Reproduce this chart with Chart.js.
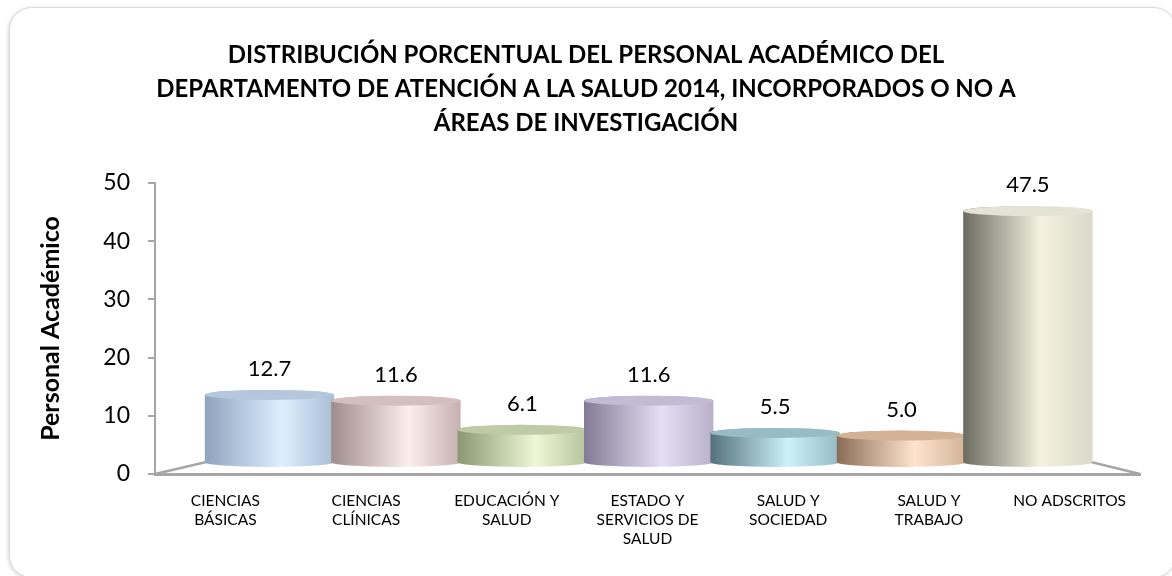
<!DOCTYPE html>
<html>
<head>
<meta charset="utf-8">
<script src="https://cdn.jsdelivr.net/npm/chart.js@4"></script>
<style>
  html, body { margin: 0; padding: 0; background: #fff; }
  #wrap { width: 1172px; height: 576px; }
</style>
</head>
<body>
<div id="wrap"><canvas id="chart1" width="1172" height="576"></canvas></div>
<script>
const categories = [
  ['CIENCIAS', 'BÁSICAS'],
  ['CIENCIAS', 'CLÍNICAS'],
  ['EDUCACIÓN Y', 'SALUD'],
  ['ESTADO Y', 'SERVICIOS DE', 'SALUD'],
  ['SALUD Y', 'SOCIEDAD'],
  ['SALUD Y', 'TRABAJO'],
  'NO ADSCRITOS'
];
const shares = [12.7, 11.6, 6.1, 11.6, 5.5, 5.0, 47.5];
const yTicks = [0, 10, 20, 30, 40, 50];
const titleLines = [
  'DISTRIBUCIÓN PORCENTUAL DEL PERSONAL ACADÉMICO DEL',
  'DEPARTAMENTO DE ATENCIÓN A LA SALUD 2014, INCORPORADOS O NO A',
  'ÁREAS DE INVESTIGACIÓN'
];
const yTitle = 'Personal Académico';

// cylinder shading: left edge, highlight, right edge, top cap
const shadeDark = ['#8fa4bd', '#a08c8c', '#8b9872', '#837b96', '#54727b', '#8a6d57', '#6b6b5f'];
const shadeLight = ['#ddeeff', '#fdeeee', '#eef7d6', '#e6dff3', '#cdf2fa', '#ffe4cc', '#f5f2e1'];
const shadeEdge = ['#aabdd3', '#c6b0b0', '#b6c39d', '#b9b0ca', '#95b9c3', '#d2b398', '#dad8c8'];
const shadeTop = ['#b4c7dc', '#d3bfbf', '#bfcba6', '#c3bad3', '#98bbc4', '#d3b296', '#e5e3d5'];

const axisGray = '#a6a6a6';
const font = 'Lato, "Noto Sans", sans-serif';

function drawCylinder(ctx, x, top, base, w, i) {
  const l = x - w / 2, r = x + w / 2, ry = 5;
  const g = ctx.createLinearGradient(l, 0, r, 0);
  g.addColorStop(0, shadeDark[i]);
  g.addColorStop(0.6, shadeLight[i]);
  g.addColorStop(1, shadeEdge[i]);
  ctx.beginPath();
  ctx.moveTo(l, top);
  ctx.lineTo(l, base);
  ctx.ellipse(x, base, w / 2, ry, 0, Math.PI, 0, true);
  ctx.lineTo(r, top);
  ctx.ellipse(x, top, w / 2, ry, 0, 0, Math.PI, true);
  ctx.closePath();
  ctx.fillStyle = g;
  ctx.fill();
  ctx.beginPath();
  ctx.ellipse(x, top, w / 2, ry, 0, 0, Math.PI * 2);
  ctx.fillStyle = shadeTop[i];
  ctx.fill();
}

const frame = {
  id: 'frame',
  beforeDraw(chart) {
    const ctx = chart.ctx;
    ctx.save();
    ctx.shadowColor = 'rgba(0,0,0,0.18)';
    ctx.shadowBlur = 4;
    ctx.shadowOffsetX = -1;
    ctx.shadowOffsetY = 1;
    ctx.beginPath();
    ctx.roundRect(9.5, 7.5, 1166, 570, 22);
    ctx.fillStyle = '#fff';
    ctx.fill();
    ctx.shadowColor = 'transparent';
    ctx.strokeStyle = '#d9d9d9';
    ctx.lineWidth = 1;
    ctx.stroke();
    ctx.restore();
  }
};

const floor = {
  id: 'floor',
  beforeDatasetsDraw(chart) {
    const { ctx, chartArea } = chart;
    const x2 = chart.scales.x2, y2 = chart.scales.y2;
    const backY = y2.getPixelForValue(0);
    const bl = x2.getPixelForValue(-0.5), br = x2.getPixelForValue(shares.length - 0.5);
    ctx.save();
    ctx.strokeStyle = axisGray;
    ctx.lineWidth = 2.5;
    ctx.beginPath();
    ctx.moveTo(chartArea.left, chartArea.bottom);
    ctx.lineTo(bl, backY);
    ctx.lineTo(br, backY);
    ctx.lineTo(chartArea.right, chartArea.bottom);
    ctx.stroke();
    ctx.restore();
  },
  afterDatasetsDraw(chart) {
    const ctx = chart.ctx;
    const y2 = chart.scales.y2;
    const meta = chart.getDatasetMeta(0);
    ctx.save();
    meta.data.forEach((bar, i) => {
      drawCylinder(ctx, bar.x, bar.y, bar.base, bar.width + 3, i);
    });
    ctx.fillStyle = '#000';
    ctx.font = '22px ' + font;
    ctx.textAlign = 'center';
    ctx.textBaseline = 'middle';
    meta.data.forEach((bar, i) => {
      ctx.fillText(shares[i].toFixed(1), bar.x, y2.getPixelForValue(shares[i]) - 26);
    });
    ctx.restore();
  }
};

document.addEventListener('DOMContentLoaded', function () {
  const chartCanvas = document.getElementById('chart1');
  new Chart(chartCanvas.getContext('2d'), {
    type: 'bar',
    data: {
      labels: categories,
      datasets: [{
        data: shares.map((v, i) => ({ x: i, y: v })),
        xAxisID: 'x2',
        yAxisID: 'y2',
        backgroundColor: 'rgba(0,0,0,0)',
        borderWidth: 0,
        barPercentage: 1,
        categoryPercentage: 1
      }]
    },
    options: {
      responsive: false,
      animation: false,
      layout: { padding: 0 },
      plugins: {
        legend: { display: false },
        tooltip: { enabled: false },
        title: {
          display: true,
          text: titleLines,
          color: '#000',
          font: { family: font, size: 24, weight: 'bold', lineHeight: 34 / 24 },
          padding: { top: 38, bottom: 43 }
        }
      },
      scales: {
        x: {
          type: 'category',
          labels: categories,
          position: 'bottom',
          grid: { display: false },
          border: { display: true, color: axisGray, width: 3 },
          ticks: {
            color: '#000',
            font: { family: font, size: 15.5, lineHeight: 1.25 },
            padding: 9,
            maxRotation: 0,
            autoSkip: false
          },
          afterFit(s) { s.height = 102; }
        },
        y: {
          type: 'linear',
          position: 'left',
          min: yTicks[0],
          max: yTicks[yTicks.length - 1],
          afterBuildTicks(s) { s.ticks = yTicks.map(v => ({ value: v })); },
          ticks: {
            color: '#000',
            font: { family: font, size: 23 },
            padding: 18
          },
          grid: { drawOnChartArea: false, tickLength: 7, color: axisGray, lineWidth: 2 },
          border: { display: true, color: axisGray, width: 2 },
          title: {
            display: true,
            text: yTitle,
            color: '#000',
            font: { family: font, size: 25, weight: 'bold' },
            padding: { top: 36, bottom: 0 }
          },
          afterFit(s) { s.width = 155; }
        },
        x2: {
          type: 'linear', display: false, offset: false, grid: { offset: false },
          min: -0.906, max: 6.887,
          afterBuildTicks(s) { s.ticks = shares.map((_, i) => ({ value: i })); }
        },
        y2: {
          type: 'linear', position: 'right', min: -2.27, max: 52.8,
          ticks: { display: false },
          grid: { display: false },
          border: { display: false },
          afterFit(s) { s.width = 32; }
        }
      }
    },
    plugins: [frame, floor]
  });
});
</script>
</body>
</html>
